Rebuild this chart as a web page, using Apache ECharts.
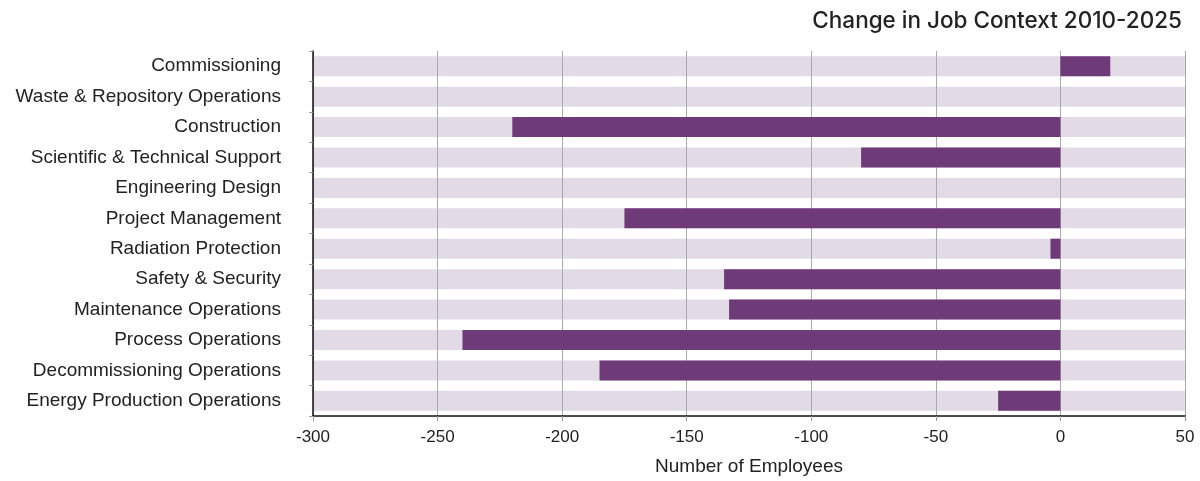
<!DOCTYPE html>
<html>
<head>
<meta charset="utf-8">
<script src="https://cdn.jsdelivr.net/npm/echarts@6/dist/echarts.min.js"></script>
<style>
  html, body { margin: 0; padding: 0; background: #fff; }
  #chart { width: 1200px; height: 481px; }
</style>
</head>
<body>
<div id="chart"></div>
<script>
// Job areas, listed bottom to top as they appear on the category axis
const categories = [
  'Energy Production Operations',
  'Decommissioning Operations',
  'Process Operations',
  'Maintenance Operations',
  'Safety & Security',
  'Radiation Protection',
  'Project Management',
  'Engineering Design',
  'Scientific & Technical Support',
  'Construction',
  'Waste & Repository Operations',
  'Commissioning'
];

// Change in number of employees, 2010-2025
const changeValues = [-25, -185, -240, -133, -135, -4, -175, 0, -80, -220, 0, 20];

// Value axis range
const axisMin = -300;
const axisMax = 50;
const axisStep = 50;

const FONT = '"Liberation Sans", Arial, Helvetica, sans-serif';
const TITLE_FONT = 'Inter, "Liberation Sans", Arial, sans-serif';
const PURPLE = '#6f3a78';
const TRACK = '#e2dbe6';

const trackLeft = categories.map(() => axisMin);
const trackRight = categories.map(() => axisMax);

const chart = echarts.init(document.getElementById('chart'));
chart.setOption({
  animation: false,
  title: {
    text: 'Change in Job Context 2010-2025',
    right: 13,
    top: 5,
    textStyle: { fontFamily: TITLE_FONT, fontSize: 22.5, fontWeight: 500, color: '#222' }
  },
  grid: { left: 313, right: 15, top: 51, bottom: 60 },
  xAxis: {
    type: 'value',
    min: axisMin,
    max: axisMax,
    interval: axisStep,
    z: 2,
    name: 'Number of Employees',
    nameLocation: 'middle',
    nameGap: 41,
    nameTextStyle: { fontFamily: FONT, fontSize: 19, color: '#222' },
    axisLine: { show: true, lineStyle: { color: '#111', width: 1.5 } },
    axisTick: { show: true, length: 5, lineStyle: { color: '#999' } },
    axisLabel: { fontFamily: FONT, fontSize: 17, color: '#222', margin: 13 },
    splitLine: { show: true, lineStyle: { color: '#aaa', width: 1 } }
  },
  yAxis: {
    type: 'category',
    data: categories,
    z: 2,
    axisLine: { show: true, onZero: false, lineStyle: { color: '#111', width: 1.5 } },
    axisTick: { show: true, length: 4, lineStyle: { color: '#999' } },
    axisLabel: { fontFamily: FONT, fontSize: 19, color: '#222', margin: 32 },
    splitLine: { show: false }
  },
  series: [
    {
      type: 'bar',
      data: trackLeft,
      barWidth: 20,
      barGap: '-100%',
      z: 1,
      silent: true,
      itemStyle: { color: TRACK }
    },
    {
      type: 'bar',
      data: trackRight,
      barWidth: 20,
      barGap: '-100%',
      z: 1,
      silent: true,
      itemStyle: { color: TRACK }
    },
    {
      type: 'bar',
      data: changeValues,
      barWidth: 20,
      barGap: '-100%',
      z: 3,
      itemStyle: { color: PURPLE }
    }
  ]
});
</script>
</body>
</html>
